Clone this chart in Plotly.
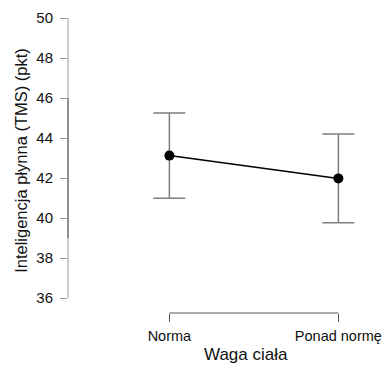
import plotly.graph_objects as go

categories = ["Norma", "Ponad normę"]
means = [43.12, 41.98]
ci_half = [2.13, 2.22]
y_ticks = [36, 38, 40, 42, 44, 46, 48, 50]

xpos = list(range(len(categories)))

fig = go.Figure()
fig.add_trace(go.Scatter(
    x=xpos, y=means, mode="lines+markers",
    line=dict(color="black", width=1.5),
    marker=dict(color="black", size=10),
    error_y=dict(type="data", array=ci_half, color="#7f7f7f", thickness=1.5, width=16),
    showlegend=False,
))

# axis lines (data-driven extents)
fig.add_shape(type="line", xref="x", yref="paper", x0=xpos[0], x1=xpos[-1], y0=0, y1=0,
              line=dict(color="#555555", width=1))
fig.add_shape(type="line", xref="paper", yref="y", x0=0, x1=0, y0=y_ticks[0], y1=y_ticks[-1],
              line=dict(color="#9a9a9a", width=1))
fig.add_shape(type="line", xref="paper", yref="y", x0=0, x1=0, y0=39, y1=46,
              line=dict(color="#555555", width=1))

fig.add_annotation(text="Waga ciała", xref="paper", yref="paper", x=0.562, y=-0.1377,
                   xanchor="center", yanchor="middle", showarrow=False,
                   font=dict(size=17, color="#111111"))

fig.update_layout(
    width=384, height=371,
    margin=dict(l=68, r=0, t=8, b=58),
    plot_bgcolor="white", paper_bgcolor="white",
    font=dict(family="Liberation Sans, Arial, sans-serif", color="#111111"),
    xaxis=dict(
        range=[-0.6, 1.27], tickvals=xpos, ticktext=categories,
        showline=False, showgrid=False, zeroline=False,
        ticks="outside", ticklen=8, tickcolor="#555555", tickwidth=1,
        tickfont=dict(size=14.5, color="#111111"), ticklabelstandoff=2,
    ),
    yaxis=dict(
        range=[35.25, 50.5], tickvals=y_ticks,
        showline=False, showgrid=False, zeroline=False,
        ticks="outside", ticklen=7, tickcolor="#9a9a9a", tickwidth=1,
        tickfont=dict(size=15, color="#111111"), ticklabelstandoff=4,
        title=dict(text="Inteligencja płynna (TMS) (pkt)", font=dict(size=16.5, color="#111111"), standoff=4),
    ),
)

fig.write_html("out.html")
